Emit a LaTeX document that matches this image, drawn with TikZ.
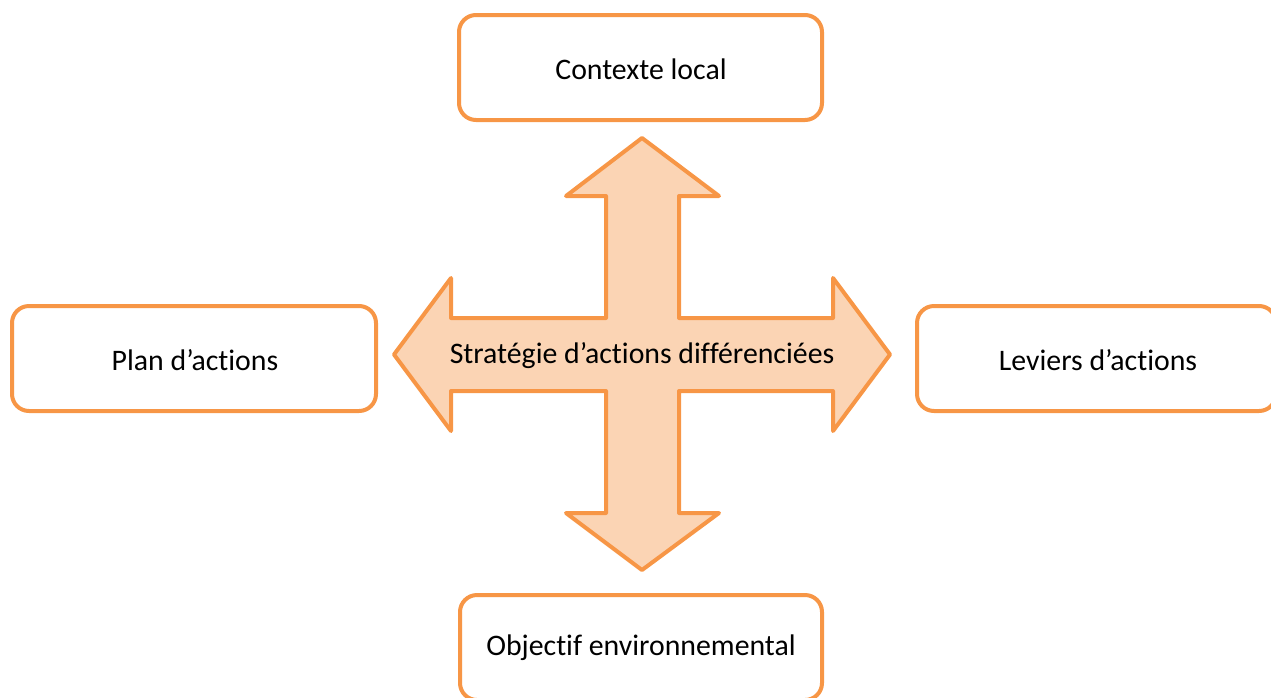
\documentclass[tikz,border=0pt]{standalone}
\usepackage{fontspec}
\setmainfont{Carlito}[Ligatures=NoCommon]
\definecolor{orangeline}{HTML}{F79646}
\definecolor{orangefill}{HTML}{FBD4B4}
\begin{document}
\begin{tikzpicture}[x=1pt,y=-1pt,
  box/.style={draw=orangeline, line width=4pt, fill=white, rounded corners=17pt},
  lbl/.style={font=\fontsize{29.8}{35}\selectfont, text=black, inner sep=0pt}]
\useasboundingbox (0,0) rectangle (1271,697);
% cross arrow
\draw[draw=orangeline, fill=orangefill, line width=4pt, line join=round]
  (642,138) -- (719,196) -- (679,196) -- (679,318) -- (833,318) -- (833,278)
  -- (890,354.5) -- (833,431) -- (833,391) -- (679,391) -- (679,513) -- (719,513)
  -- (642,570) -- (566,513) -- (606,513) -- (606,391) -- (451,391) -- (451,431)
  -- (394,354.5) -- (451,278) -- (451,318) -- (606,318) -- (606,196) -- (566,196) -- cycle;
\node[lbl] (center) at (642,356) {Stratégie d’actions différenciées};
% boxes
\draw[box] (459,15) rectangle (822,120);
\node[lbl] (top) at (641,69) {Contexte local};
\draw[box] (12,306) rectangle (376,411);
\node[lbl] (left) at (195,360) {Plan d’actions};
\draw[box] (917,306) rectangle (1276,411);
\node[lbl] (right) at (1098,360) {Leviers d’actions};
\draw[box] (460,595) rectangle (822,700);
\node[lbl] (bottom) at (641,648) {Objectif environnemental};
\end{tikzpicture}
\end{document}
